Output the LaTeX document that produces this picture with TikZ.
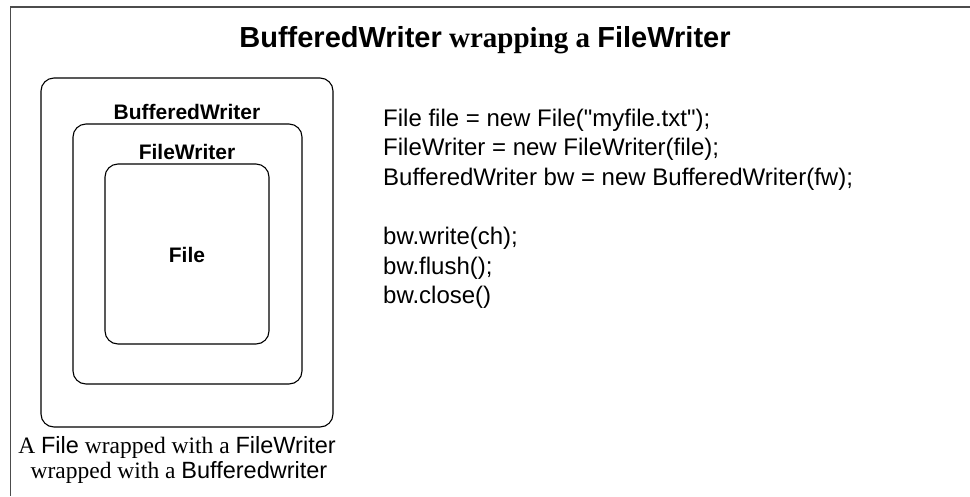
\documentclass[tikz,border=0pt]{standalone}
\usepackage{fontspec}
\setmainfont{Liberation Serif}
\setsansfont{Liberation Sans}
\newfontfamily\codefont{Liberation Sans}[Ligatures=TeXOff]
\begin{document}
\begin{tikzpicture}[x=1pt,y=-1pt,
  box/.style={draw=black, line width=1.1pt, rounded corners=13pt, inner sep=0pt},
  boxlabel/.style={font=\fontsize{21}{25}\selectfont\sffamily\bfseries, inner sep=0pt},
  codeline/.style={font=\fontsize{24}{29}\selectfont\codefont, anchor=base west, inner sep=0pt},
  capline/.style={font=\fontsize{23.5}{28}\selectfont\rmfamily, anchor=base, inner sep=0pt},
  frame/.style={line width=1.8pt, draw=black!70}]
\useasboundingbox (0,0) rectangle (970,496);
% frame (top and left edges only)
\coordinate (ftl) at (10.5,7);
\coordinate (ftr) at (970,7);
\coordinate (fbl) at (10.5,496);
\draw[frame] (ftr) -- (ftl) -- (fbl);
% title
\node[font=\fontsize{29}{34}\selectfont, inner sep=0pt] (title) at (485,40)
  {{\sffamily\bfseries BufferedWriter} {\bfseries wrapping a} {\sffamily\bfseries FileWriter}};
% nested boxes
\node[box, minimum width=292pt, minimum height=349pt] (bw) at (187,252.5) {};
\node[box, minimum width=229pt, minimum height=260pt] (fw) at (187.5,254) {};
\node[box, minimum width=164pt, minimum height=180pt] (f) at (187,254) {};
\node[boxlabel] (bwlabel) at (187,112) {BufferedWriter};
\node[boxlabel] (fwlabel) at (187,152) {FileWriter};
\node[boxlabel] (flabel) at (187,255) {File};
% code
\node[codeline] (c1) at (383,126) {File file = new File("myfile.txt");};
\node[codeline] (c2) at (383,155.6) {FileWriter = new FileWriter(file);};
\node[codeline] (c3) at (383,185.2) {BufferedWriter bw = new BufferedWriter(fw);};
\node[codeline] (c4) at (383,244.4) {bw.write(ch);};
\node[codeline] (c5) at (383,274) {bw.flush();};
\node[codeline] (c6) at (383,303.6) {bw.close()};
% caption
\node[capline] (cap1) at (177,453) {A {\sffamily File} wrapped with a {\sffamily FileWriter}};
\node[capline] (cap2) at (179,478.5) {wrapped with a {\sffamily Bufferedwriter}};
\end{tikzpicture}
\end{document}
